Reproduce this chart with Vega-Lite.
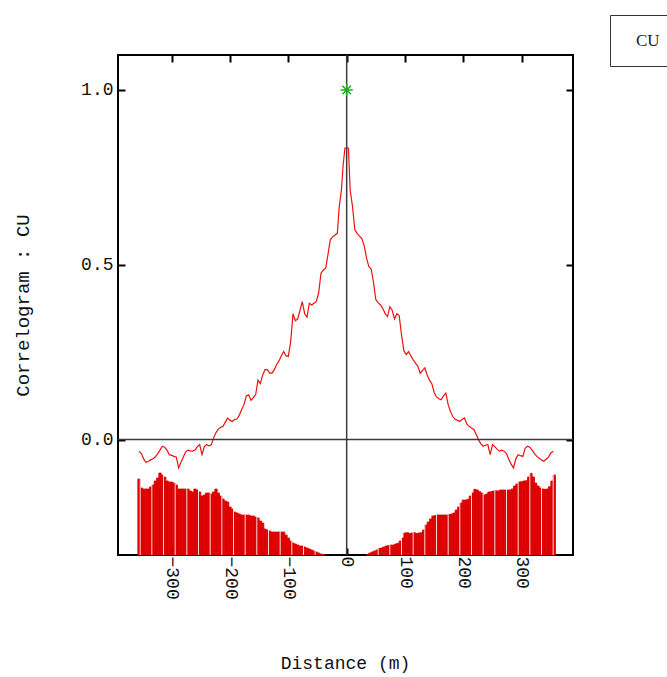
{
  "$schema": "https://vega.github.io/schema/vega-lite/v6.json",
  "width": 455,
  "height": 500,
  "autosize": "none",
  "padding": {"left": 118, "top": 55, "right": 94, "bottom": 122},
  "background": "white",
  "config": {
    "view": {"stroke": "black", "strokeWidth": 2},
    "axis": {
      "labelFont": "Liberation Mono",
      "titleFont": "Liberation Mono",
      "labelFontSize": 18,
      "titleFontSize": 18,
      "labelColor": "#111111",
      "titleColor": "#111111",
      "titleFontWeight": "normal",
      "grid": false,
      "domain": false,
      "tickColor": "black",
      "tickWidth": 2,
      "tickSize": -7
    }
  },
  "datasets": {
    "corr": [
      {"lag": -356, "c": -0.033}, {"lag": -352, "c": -0.04}, {"lag": -348, "c": -0.055}, {"lag": -344, "c": -0.065},
      {"lag": -340, "c": -0.062}, {"lag": -336, "c": -0.058}, {"lag": -332, "c": -0.055}, {"lag": -328, "c": -0.05},
      {"lag": -324, "c": -0.04}, {"lag": -320, "c": -0.03}, {"lag": -316, "c": -0.019}, {"lag": -312, "c": -0.022},
      {"lag": -308, "c": -0.03}, {"lag": -304, "c": -0.043}, {"lag": -300, "c": -0.045}, {"lag": -296, "c": -0.048},
      {"lag": -292, "c": -0.05}, {"lag": -288, "c": -0.081}, {"lag": -284, "c": -0.065}, {"lag": -280, "c": -0.05},
      {"lag": -276, "c": -0.035}, {"lag": -272, "c": -0.03}, {"lag": -268, "c": -0.032}, {"lag": -264, "c": -0.033},
      {"lag": -260, "c": -0.03}, {"lag": -256, "c": -0.02}, {"lag": -252, "c": -0.014}, {"lag": -248, "c": -0.043},
      {"lag": -244, "c": -0.02}, {"lag": -240, "c": -0.014}, {"lag": -236, "c": -0.018}, {"lag": -232, "c": -0.015},
      {"lag": -228, "c": 0.005}, {"lag": -224, "c": 0.02}, {"lag": -220, "c": 0.03}, {"lag": -216, "c": 0.035},
      {"lag": -212, "c": 0.038}, {"lag": -208, "c": 0.05}, {"lag": -204, "c": 0.062}, {"lag": -200, "c": 0.055},
      {"lag": -196, "c": 0.052}, {"lag": -192, "c": 0.058}, {"lag": -188, "c": 0.059}, {"lag": -184, "c": 0.07},
      {"lag": -180, "c": 0.086}, {"lag": -176, "c": 0.1}, {"lag": -172, "c": 0.125}, {"lag": -168, "c": 0.128},
      {"lag": -164, "c": 0.112}, {"lag": -160, "c": 0.12}, {"lag": -156, "c": 0.129}, {"lag": -152, "c": 0.17},
      {"lag": -148, "c": 0.16}, {"lag": -144, "c": 0.185}, {"lag": -140, "c": 0.2}, {"lag": -136, "c": 0.2},
      {"lag": -132, "c": 0.19}, {"lag": -128, "c": 0.19}, {"lag": -124, "c": 0.2}, {"lag": -120, "c": 0.215},
      {"lag": -116, "c": 0.225}, {"lag": -112, "c": 0.24}, {"lag": -108, "c": 0.252}, {"lag": -104, "c": 0.24},
      {"lag": -100, "c": 0.238}, {"lag": -96, "c": 0.28}, {"lag": -92, "c": 0.36}, {"lag": -88, "c": 0.34},
      {"lag": -84, "c": 0.345}, {"lag": -80, "c": 0.37}, {"lag": -76, "c": 0.395}, {"lag": -72, "c": 0.36},
      {"lag": -68, "c": 0.35}, {"lag": -64, "c": 0.39}, {"lag": -60, "c": 0.385}, {"lag": -56, "c": 0.39},
      {"lag": -52, "c": 0.395}, {"lag": -48, "c": 0.42}, {"lag": -44, "c": 0.476}, {"lag": -40, "c": 0.485},
      {"lag": -36, "c": 0.49}, {"lag": -32, "c": 0.53}, {"lag": -28, "c": 0.572}, {"lag": -24, "c": 0.58},
      {"lag": -20, "c": 0.585}, {"lag": -16, "c": 0.59}, {"lag": -13, "c": 0.662}, {"lag": -9, "c": 0.714},
      {"lag": -6, "c": 0.786}, {"lag": -3, "c": 0.834}, {"lag": 0, "c": 0.834}, {"lag": 3, "c": 0.834},
      {"lag": 6, "c": 0.714}, {"lag": 10, "c": 0.667}, {"lag": 14, "c": 0.6}, {"lag": 18, "c": 0.59},
      {"lag": 22, "c": 0.582}, {"lag": 26, "c": 0.575}, {"lag": 30, "c": 0.555}, {"lag": 34, "c": 0.52},
      {"lag": 38, "c": 0.495}, {"lag": 42, "c": 0.488}, {"lag": 46, "c": 0.45}, {"lag": 50, "c": 0.4},
      {"lag": 54, "c": 0.392}, {"lag": 58, "c": 0.385}, {"lag": 62, "c": 0.375}, {"lag": 66, "c": 0.36},
      {"lag": 70, "c": 0.352}, {"lag": 74, "c": 0.38}, {"lag": 78, "c": 0.37}, {"lag": 82, "c": 0.345},
      {"lag": 86, "c": 0.36}, {"lag": 90, "c": 0.355}, {"lag": 94, "c": 0.3}, {"lag": 98, "c": 0.255},
      {"lag": 102, "c": 0.243}, {"lag": 106, "c": 0.252}, {"lag": 110, "c": 0.24}, {"lag": 114, "c": 0.228},
      {"lag": 118, "c": 0.219}, {"lag": 122, "c": 0.21}, {"lag": 126, "c": 0.19}, {"lag": 130, "c": 0.198},
      {"lag": 134, "c": 0.205}, {"lag": 138, "c": 0.185}, {"lag": 142, "c": 0.17}, {"lag": 146, "c": 0.16},
      {"lag": 150, "c": 0.135}, {"lag": 154, "c": 0.122}, {"lag": 158, "c": 0.117}, {"lag": 162, "c": 0.114},
      {"lag": 166, "c": 0.125}, {"lag": 170, "c": 0.133}, {"lag": 174, "c": 0.1}, {"lag": 178, "c": 0.08},
      {"lag": 182, "c": 0.066}, {"lag": 186, "c": 0.058}, {"lag": 190, "c": 0.055}, {"lag": 194, "c": 0.052},
      {"lag": 198, "c": 0.058}, {"lag": 202, "c": 0.062}, {"lag": 206, "c": 0.045}, {"lag": 210, "c": 0.038},
      {"lag": 214, "c": 0.033}, {"lag": 218, "c": 0.029}, {"lag": 222, "c": 0.015}, {"lag": 226, "c": 0.0},
      {"lag": 230, "c": -0.012}, {"lag": 234, "c": -0.019}, {"lag": 238, "c": -0.016}, {"lag": 242, "c": -0.014},
      {"lag": 246, "c": -0.043}, {"lag": 250, "c": -0.014}, {"lag": 254, "c": -0.02}, {"lag": 258, "c": -0.028},
      {"lag": 262, "c": -0.033}, {"lag": 266, "c": -0.03}, {"lag": 270, "c": -0.033}, {"lag": 274, "c": -0.04},
      {"lag": 278, "c": -0.057}, {"lag": 282, "c": -0.07}, {"lag": 286, "c": -0.081}, {"lag": 290, "c": -0.055},
      {"lag": 294, "c": -0.043}, {"lag": 298, "c": -0.046}, {"lag": 302, "c": -0.048}, {"lag": 306, "c": -0.025},
      {"lag": 310, "c": -0.019}, {"lag": 314, "c": -0.022}, {"lag": 318, "c": -0.03}, {"lag": 322, "c": -0.04},
      {"lag": 326, "c": -0.048}, {"lag": 330, "c": -0.053}, {"lag": 334, "c": -0.058}, {"lag": 338, "c": -0.062},
      {"lag": 342, "c": -0.056}, {"lag": 346, "c": -0.05}, {"lag": 350, "c": -0.038}, {"lag": 354, "c": -0.033}
    ],
    "pairs": [
      {"lo": -358, "hi": -354, "n": 760}, {"lo": -354, "hi": -350, "n": 670}, {"lo": -350, "hi": -346, "n": 660},
      {"lo": -346, "hi": -342, "n": 660}, {"lo": -342, "hi": -338, "n": 660}, {"lo": -338, "hi": -334, "n": 680},
      {"lo": -334, "hi": -330, "n": 700}, {"lo": -330, "hi": -326, "n": 740}, {"lo": -326, "hi": -322, "n": 770},
      {"lo": -322, "hi": -318, "n": 820}, {"lo": -318, "hi": -314, "n": 800}, {"lo": -314, "hi": -310, "n": 780},
      {"lo": -310, "hi": -306, "n": 740}, {"lo": -306, "hi": -302, "n": 730}, {"lo": -302, "hi": -298, "n": 730},
      {"lo": -298, "hi": -294, "n": 720}, {"lo": -294, "hi": -290, "n": 700}, {"lo": -290, "hi": -286, "n": 660},
      {"lo": -286, "hi": -282, "n": 660}, {"lo": -282, "hi": -278, "n": 660}, {"lo": -278, "hi": -274, "n": 660},
      {"lo": -274, "hi": -270, "n": 660}, {"lo": -270, "hi": -266, "n": 640}, {"lo": -266, "hi": -262, "n": 630},
      {"lo": -262, "hi": -258, "n": 660}, {"lo": -258, "hi": -254, "n": 650}, {"lo": -254, "hi": -250, "n": 630},
      {"lo": -250, "hi": -246, "n": 590}, {"lo": -246, "hi": -242, "n": 600}, {"lo": -242, "hi": -238, "n": 620},
      {"lo": -238, "hi": -234, "n": 620}, {"lo": -234, "hi": -230, "n": 610}, {"lo": -230, "hi": -226, "n": 630},
      {"lo": -226, "hi": -222, "n": 660}, {"lo": -222, "hi": -218, "n": 620}, {"lo": -218, "hi": -214, "n": 590},
      {"lo": -214, "hi": -210, "n": 560}, {"lo": -210, "hi": -206, "n": 540}, {"lo": -206, "hi": -202, "n": 530},
      {"lo": -202, "hi": -198, "n": 480}, {"lo": -198, "hi": -194, "n": 460}, {"lo": -194, "hi": -190, "n": 430},
      {"lo": -190, "hi": -186, "n": 420}, {"lo": -186, "hi": -182, "n": 410}, {"lo": -182, "hi": -178, "n": 400},
      {"lo": -178, "hi": -174, "n": 400}, {"lo": -174, "hi": -170, "n": 400}, {"lo": -170, "hi": -166, "n": 400},
      {"lo": -166, "hi": -162, "n": 390}, {"lo": -162, "hi": -158, "n": 390}, {"lo": -158, "hi": -154, "n": 380},
      {"lo": -154, "hi": -150, "n": 370}, {"lo": -150, "hi": -146, "n": 340}, {"lo": -146, "hi": -142, "n": 320},
      {"lo": -142, "hi": -138, "n": 260}, {"lo": -138, "hi": -134, "n": 250}, {"lo": -134, "hi": -130, "n": 240},
      {"lo": -130, "hi": -126, "n": 230}, {"lo": -126, "hi": -122, "n": 230}, {"lo": -122, "hi": -118, "n": 230},
      {"lo": -118, "hi": -114, "n": 230}, {"lo": -114, "hi": -110, "n": 230}, {"lo": -110, "hi": -106, "n": 230},
      {"lo": -106, "hi": -102, "n": 200}, {"lo": -102, "hi": -98, "n": 170}, {"lo": -98, "hi": -94, "n": 140},
      {"lo": -94, "hi": -90, "n": 120}, {"lo": -90, "hi": -86, "n": 110}, {"lo": -86, "hi": -82, "n": 100},
      {"lo": -82, "hi": -78, "n": 90}, {"lo": -78, "hi": -74, "n": 90}, {"lo": -74, "hi": -70, "n": 80},
      {"lo": -70, "hi": -66, "n": 70}, {"lo": -66, "hi": -62, "n": 60}, {"lo": -62, "hi": -58, "n": 50},
      {"lo": -58, "hi": -54, "n": 40}, {"lo": -54, "hi": -50, "n": 30}, {"lo": -50, "hi": -46, "n": 20},
      {"lo": -46, "hi": -42, "n": 10}, {"lo": -42, "hi": -38, "n": 5},
      {"lo": 34, "hi": 38, "n": 5}, {"lo": 38, "hi": 42, "n": 20}, {"lo": 42, "hi": 46, "n": 30},
      {"lo": 46, "hi": 50, "n": 40}, {"lo": 50, "hi": 54, "n": 50}, {"lo": 54, "hi": 58, "n": 65},
      {"lo": 58, "hi": 62, "n": 70}, {"lo": 62, "hi": 66, "n": 80}, {"lo": 66, "hi": 70, "n": 90},
      {"lo": 70, "hi": 74, "n": 95}, {"lo": 74, "hi": 78, "n": 100}, {"lo": 78, "hi": 82, "n": 100},
      {"lo": 82, "hi": 86, "n": 110}, {"lo": 86, "hi": 90, "n": 117}, {"lo": 90, "hi": 94, "n": 140},
      {"lo": 94, "hi": 98, "n": 170}, {"lo": 98, "hi": 102, "n": 220}, {"lo": 102, "hi": 106, "n": 223},
      {"lo": 106, "hi": 110, "n": 215}, {"lo": 110, "hi": 114, "n": 220}, {"lo": 114, "hi": 118, "n": 223},
      {"lo": 118, "hi": 122, "n": 215}, {"lo": 122, "hi": 126, "n": 220}, {"lo": 126, "hi": 130, "n": 223},
      {"lo": 130, "hi": 134, "n": 250}, {"lo": 134, "hi": 138, "n": 300}, {"lo": 138, "hi": 142, "n": 330},
      {"lo": 142, "hi": 146, "n": 360}, {"lo": 146, "hi": 150, "n": 390}, {"lo": 150, "hi": 154, "n": 395},
      {"lo": 154, "hi": 158, "n": 400}, {"lo": 158, "hi": 162, "n": 400}, {"lo": 162, "hi": 166, "n": 400},
      {"lo": 166, "hi": 170, "n": 400}, {"lo": 170, "hi": 174, "n": 400}, {"lo": 174, "hi": 178, "n": 405},
      {"lo": 178, "hi": 182, "n": 410}, {"lo": 182, "hi": 186, "n": 420}, {"lo": 186, "hi": 190, "n": 450},
      {"lo": 190, "hi": 194, "n": 480}, {"lo": 194, "hi": 198, "n": 520}, {"lo": 198, "hi": 202, "n": 550},
      {"lo": 202, "hi": 206, "n": 550}, {"lo": 206, "hi": 210, "n": 557}, {"lo": 210, "hi": 214, "n": 590},
      {"lo": 214, "hi": 218, "n": 620}, {"lo": 218, "hi": 222, "n": 657}, {"lo": 222, "hi": 226, "n": 650},
      {"lo": 226, "hi": 230, "n": 633}, {"lo": 230, "hi": 234, "n": 620}, {"lo": 234, "hi": 238, "n": 600},
      {"lo": 238, "hi": 242, "n": 610}, {"lo": 242, "hi": 246, "n": 630}, {"lo": 246, "hi": 250, "n": 633},
      {"lo": 250, "hi": 254, "n": 640}, {"lo": 254, "hi": 258, "n": 643}, {"lo": 258, "hi": 262, "n": 640},
      {"lo": 262, "hi": 266, "n": 650}, {"lo": 266, "hi": 270, "n": 650}, {"lo": 270, "hi": 274, "n": 650},
      {"lo": 274, "hi": 278, "n": 650}, {"lo": 278, "hi": 282, "n": 650}, {"lo": 282, "hi": 286, "n": 660},
      {"lo": 286, "hi": 290, "n": 690}, {"lo": 290, "hi": 294, "n": 710}, {"lo": 294, "hi": 298, "n": 730},
      {"lo": 298, "hi": 302, "n": 733}, {"lo": 302, "hi": 306, "n": 740}, {"lo": 306, "hi": 310, "n": 743},
      {"lo": 310, "hi": 314, "n": 780}, {"lo": 314, "hi": 318, "n": 817}, {"lo": 318, "hi": 322, "n": 780},
      {"lo": 322, "hi": 326, "n": 720}, {"lo": 326, "hi": 330, "n": 690}, {"lo": 330, "hi": 334, "n": 670},
      {"lo": 334, "hi": 338, "n": 660}, {"lo": 338, "hi": 342, "n": 657}, {"lo": 342, "hi": 346, "n": 660},
      {"lo": 346, "hi": 350, "n": 683}, {"lo": 350, "hi": 354, "n": 740}, {"lo": 354, "hi": 358, "n": 800}
    ],
    "gaps": [
      {"lag": -354}, {"lag": -334}, {"lag": -314}, {"lag": -294}, {"lag": -274}, {"lag": -254}, {"lag": -234},
      {"lag": -214}, {"lag": -194}, {"lag": -174}, {"lag": -154}, {"lag": -134}, {"lag": -114}, {"lag": -94},
      {"lag": -74}, {"lag": -54}, {"lag": 54}, {"lag": 74}, {"lag": 94}, {"lag": 114}, {"lag": 134},
      {"lag": 154}, {"lag": 174}, {"lag": 194}, {"lag": 214}, {"lag": 234}, {"lag": 254}, {"lag": 274},
      {"lag": 294}, {"lag": 314}, {"lag": 334}, {"lag": 354}
    ]
  },
  "layer": [
    {
      "layer": [
        {
          "data": {"name": "pairs"},
          "mark": {"type": "bar", "color": "#dd0000", "stroke": "#dd0000", "strokeWidth": 0.8},
          "encoding": {
            "x": {"field": "lo", "type": "quantitative", "scale": {"domain": [-392, 388]}, "axis": null},
            "x2": {"field": "hi"},
            "y": {"field": "n", "type": "quantitative", "scale": {"domain": [0, 5000]}, "axis": null},
            "y2": {"datum": 0}
          }
        },
        {
          "data": {"name": "gaps"},
          "mark": {"type": "rule", "color": "white", "strokeWidth": 1, "opacity": 0.85},
          "encoding": {
            "x": {"field": "lag", "type": "quantitative", "scale": {"domain": [-392, 388]}, "axis": null},
            "y": {"datum": 0, "type": "quantitative", "scale": {"domain": [0, 5000]}, "axis": null},
            "y2": {"datum": 850}
          }
        }
      ]
    },
    {
      "data": {"name": "corr"},
      "mark": {"type": "line", "strokeWidth": 1.2},
      "encoding": {
        "x": {
          "field": "lag", "type": "quantitative",
          "scale": {"domain": [-392, 388], "nice": false, "zero": false},
          "axis": {
            "orient": "bottom", "values": [-300, -200, -100, 0, 100, 200, 300],
            "labelAngle": 90, "labelAlign": "left", "labelBaseline": "middle",
            "labelPadding": 8, "labelExpr": "datum.value >= 0 ? '\u00a0' + datum.label : datum.label",
            "title": "Distance (m)", "titleX": 227, "titleY": 108, "titleAlign": "center", "titleBaseline": "middle"
          }
        },
        "y": {
          "field": "c", "type": "quantitative",
          "scale": {"domain": [-0.33, 1.1], "nice": false, "zero": false},
          "axis": {
            "orient": "left", "values": [0, 0.5, 1], "format": ".1f",
            "labelPadding": 12,
            "title": "Correlogram : CU", "titleFontSize": 19, "titleAngle": -90, "titleX": -96, "titleY": 250,
            "titleAlign": "center", "titleBaseline": "middle"
          }
        },
        "color": {
          "datum": "CU", "type": "nominal",
          "scale": {"domain": ["CU"], "range": ["#ee1111"]},
          "legend": {
            "orient": "none", "legendX": 492, "legendY": -40, "title": null,
            "padding": 17, "strokeColor": "#333333", "fillColor": "white",
            "symbolSize": 0, "symbolStrokeWidth": 0, "symbolOpacity": 0,
            "labelFont": "Liberation Serif", "labelFontSize": 17, "labelColor": "#222222", "labelOffset": -8
          }
        }
      }
    },
    {
      "data": {"values": [{}]},
      "mark": {"type": "rule", "color": "#3a3a3a", "strokeWidth": 1.5},
      "encoding": {
        "y": {"datum": 0, "type": "quantitative", "scale": {"domain": [-0.33, 1.1], "nice": false, "zero": false}, "axis": null}
      }
    },
    {
      "data": {"values": [{}]},
      "mark": {"type": "rule", "color": "#3a3a3a", "strokeWidth": 1.5},
      "encoding": {
        "x": {"datum": 0, "type": "quantitative", "scale": {"domain": [-392, 388], "nice": false, "zero": false}, "axis": null}
      }
    },
    {
      "data": {"values": [{"lag": 0, "c": 1}]},
      "mark": {"type": "point", "shape": "M-1,0L1,0M0,-1L0,1M-0.7,-0.7L0.7,0.7M-0.7,0.7L0.7,-0.7", "size": 150, "stroke": "#22aa22", "strokeWidth": 1.5, "filled": false, "opacity": 1},
      "encoding": {
        "x": {
          "field": "lag", "type": "quantitative",
          "scale": {"domain": [-392, 388], "nice": false, "zero": false},
          "axis": {"orient": "top", "values": [-300, -200, -100, 0, 100, 200, 300], "labels": false, "title": null}
        },
        "y": {
          "field": "c", "type": "quantitative",
          "scale": {"domain": [-0.33, 1.1], "nice": false, "zero": false},
          "axis": {"orient": "right", "values": [0, 0.5, 1], "labels": false, "title": null}
        }
      }
    }
  ],
  "resolve": {
    "scale": {"x": "independent", "y": "independent"},
    "axis": {"x": "independent", "y": "independent"}
  }
}
